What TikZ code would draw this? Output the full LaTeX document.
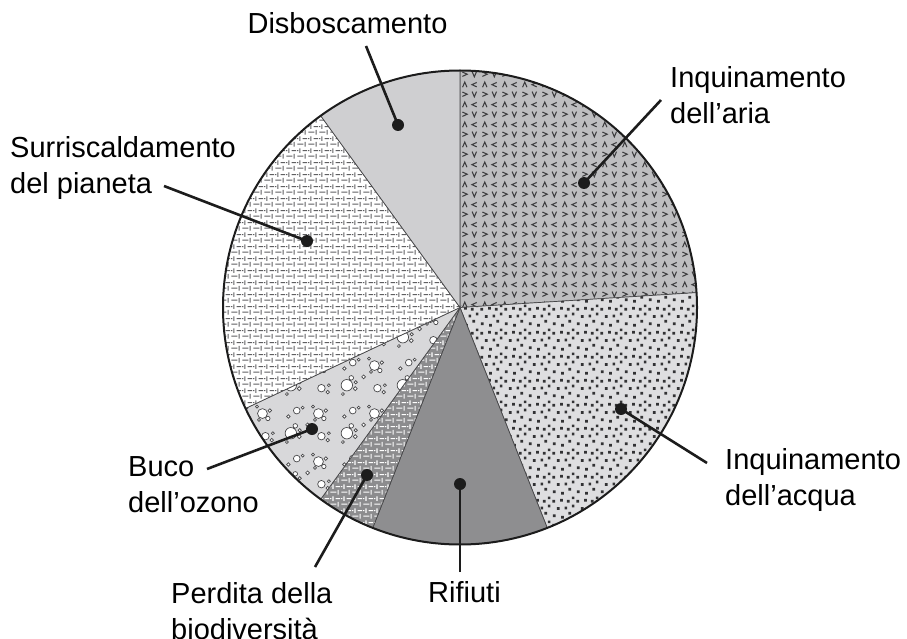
\documentclass[tikz,border=0pt]{standalone}
\usepackage{fontspec}
\setmainfont{Liberation Sans}
\usetikzlibrary{patterns}

\definecolor{linea}{RGB}{28,28,28}
\definecolor{bordo}{RGB}{70,70,72}
\definecolor{ariafondo}{RGB}{190,190,192}
\definecolor{ariasegni}{RGB}{60,60,62}
\definecolor{acquafondo}{RGB}{222,222,224}
\definecolor{acquasegni}{RGB}{50,50,52}
\definecolor{rifiutifondo}{RGB}{142,142,144}
\definecolor{perditafondo}{RGB}{140,140,142}
\definecolor{bucofondo}{RGB}{216,216,218}
\definecolor{bolla}{RGB}{70,70,72}
\definecolor{surrisegni}{RGB}{95,95,97}
\definecolor{disbofondo}{RGB}{207,207,209}

% trama a intreccio
\pgfdeclarepatternformonly{intreccio}{\pgfqpoint{0pt}{0pt}}{\pgfqpoint{11pt}{12pt}}{\pgfqpoint{11pt}{12pt}}{%
	\pgfsetlinewidth{1.1pt}
	\pgfpathmoveto{\pgfqpoint{0.5pt}{3pt}}\pgfpathlineto{\pgfqpoint{7pt}{3pt}}
	\pgfpathmoveto{\pgfqpoint{8.75pt}{0.5pt}}\pgfpathlineto{\pgfqpoint{8.75pt}{5.5pt}}
	\pgfpathmoveto{\pgfqpoint{6pt}{9pt}}\pgfpathlineto{\pgfqpoint{11pt}{9pt}}
	\pgfpathmoveto{\pgfqpoint{0pt}{9pt}}\pgfpathlineto{\pgfqpoint{1.5pt}{9pt}}
	\pgfpathmoveto{\pgfqpoint{3.25pt}{6.5pt}}\pgfpathlineto{\pgfqpoint{3.25pt}{11.5pt}}
	\pgfusepath{stroke}}

% trama a freccette
\pgfdeclarepatternformonly{freccette}{\pgfqpoint{0pt}{0pt}}{\pgfqpoint{20pt}{20pt}}{\pgfqpoint{20pt}{20pt}}{%
	\pgfsetlinewidth{1.1pt}
	\pgfpathmoveto{\pgfqpoint{2.7pt}{12.3pt}}\pgfpathlineto{\pgfqpoint{5pt}{17.7pt}}\pgfpathlineto{\pgfqpoint{7.3pt}{12.3pt}}
	\pgfpathmoveto{\pgfqpoint{17.5pt}{12.7pt}}\pgfpathlineto{\pgfqpoint{12.5pt}{15pt}}\pgfpathlineto{\pgfqpoint{17.5pt}{17.3pt}}
	\pgfpathmoveto{\pgfqpoint{2.5pt}{2.7pt}}\pgfpathlineto{\pgfqpoint{7.5pt}{5pt}}\pgfpathlineto{\pgfqpoint{2.5pt}{7.3pt}}
	\pgfpathmoveto{\pgfqpoint{12.7pt}{7.7pt}}\pgfpathlineto{\pgfqpoint{15pt}{2.3pt}}\pgfpathlineto{\pgfqpoint{17.3pt}{7.7pt}}
	\pgfusepath{stroke}}

% trama a puntini
\pgfdeclarepatternformonly{puntini}{\pgfqpoint{0pt}{0pt}}{\pgfqpoint{24pt}{24pt}}{\pgfqpoint{24pt}{24pt}}{%
	\pgfpathrectangle{\pgfqpoint{1pt}{2pt}}{\pgfqpoint{2.8pt}{2.8pt}}
	\pgfpathrectangle{\pgfqpoint{9.5pt}{0.5pt}}{\pgfqpoint{2.8pt}{2.8pt}}
	\pgfpathrectangle{\pgfqpoint{17pt}{4.5pt}}{\pgfqpoint{2.8pt}{2.8pt}}
	\pgfpathrectangle{\pgfqpoint{5pt}{9.5pt}}{\pgfqpoint{2.8pt}{2.8pt}}
	\pgfpathrectangle{\pgfqpoint{13pt}{10pt}}{\pgfqpoint{2.8pt}{2.8pt}}
	\pgfpathrectangle{\pgfqpoint{20.5pt}{12pt}}{\pgfqpoint{2.8pt}{2.8pt}}
	\pgfpathrectangle{\pgfqpoint{0.5pt}{17pt}}{\pgfqpoint{2.8pt}{2.8pt}}
	\pgfpathrectangle{\pgfqpoint{8.5pt}{18pt}}{\pgfqpoint{2.8pt}{2.8pt}}
	\pgfpathrectangle{\pgfqpoint{15.5pt}{17pt}}{\pgfqpoint{2.8pt}{2.8pt}}
	\pgfpathrectangle{\pgfqpoint{20.5pt}{20.5pt}}{\pgfqpoint{2.8pt}{2.8pt}}
	\pgfusepath{fill}}

% trama a bolle
\pgfdeclarepatterninherentlycolored{bolle}{\pgfqpoint{0pt}{0pt}}{\pgfqpoint{56pt}{48pt}}{\pgfqpoint{56pt}{48pt}}{%
	\pgfsetlinewidth{0.7pt}
	\pgfsetfillcolor{white}
	\pgfsetstrokecolor{bolla}
	\pgfpathcircle{\pgfqpoint{11pt}{14pt}}{5.8pt}
	\pgfpathcircle{\pgfqpoint{19.5pt}{10.5pt}}{2pt}
	\pgfpathcircle{\pgfqpoint{20pt}{17pt}}{1.7pt}
	\pgfpathcircle{\pgfqpoint{15.5pt}{21.5pt}}{2.3pt}
	\pgfpathcircle{\pgfqpoint{7pt}{5pt}}{1.5pt}
	\pgfpathcircle{\pgfqpoint{39pt}{34pt}}{5pt}
	\pgfpathcircle{\pgfqpoint{46.5pt}{37pt}}{1.8pt}
	\pgfpathcircle{\pgfqpoint{44.5pt}{29pt}}{2.2pt}
	\pgfpathcircle{\pgfqpoint{33.5pt}{41pt}}{1.5pt}
	\pgfpathcircle{\pgfqpoint{35.5pt}{27.5pt}}{1.5pt}
	\pgfpathcircle{\pgfqpoint{42pt}{11pt}}{3.8pt}
	\pgfpathcircle{\pgfqpoint{49.5pt}{14pt}}{1.5pt}
	\pgfpathcircle{\pgfqpoint{48.5pt}{7pt}}{1.8pt}
	\pgfpathcircle{\pgfqpoint{17pt}{37pt}}{3.4pt}
	\pgfpathcircle{\pgfqpoint{23pt}{40pt}}{1.5pt}
	\pgfpathcircle{\pgfqpoint{8.5pt}{31pt}}{1.8pt}
	\pgfpathcircle{\pgfqpoint{28pt}{22.5pt}}{2pt}
	\pgfusepath{fill,stroke}}

\tikzset{%
	fetta/.style = {draw=bordo, line width=0.7pt},
	aria/.style = {fetta, preaction={fill=ariafondo}, pattern=freccette, pattern color=ariasegni},
	acqua/.style = {fetta, preaction={fill=acquafondo}, pattern=puntini, pattern color=acquasegni},
	rifiuti/.style = {fetta, fill=rifiutifondo},
	perdita/.style = {fetta, preaction={fill=perditafondo}, pattern=intreccio, pattern color=white},
	buco/.style = {fetta, preaction={fill=bucofondo}, pattern=bolle},
	surri/.style = {fetta, preaction={fill=white}, pattern=intreccio, pattern color=surrisegni},
	disbo/.style = {fetta, fill=disbofondo},
	punto/.style = {circle, fill=linea, inner sep=0pt, minimum size=12pt},
	filo/.style = {draw=linea, line width=2.6pt},
	voce/.style = {font=\fontsize{29}{36}\selectfont, inner sep=0pt, align=left}%
}

\begin{document}
\begin{tikzpicture}[x=1pt,y=-1pt]
		\useasboundingbox (0,0) rectangle (907,639);
		\def\r{237}
		\coordinate (c) at (460,307.5);
		
		% fette
		\path[aria] (c) -- ++(-90:\r) arc[start angle=-90, end angle=-3.6, radius=\r] -- cycle;
		\path[acqua] (c) -- ++(-3.6:\r) arc[start angle=-3.6, end angle=68.4, radius=\r] -- cycle;
		\path[rifiuti] (c) -- ++(68.4:\r) arc[start angle=68.4, end angle=111.6, radius=\r] -- cycle;
		\path[perdita] (c) -- ++(111.6:\r) arc[start angle=111.6, end angle=126, radius=\r] -- cycle;
		\path[buco] (c) -- ++(126:\r) arc[start angle=126, end angle=154.8, radius=\r] -- cycle;
		\path[surri] (c) -- ++(154.8:\r) arc[start angle=154.8, end angle=234, radius=\r] -- cycle;
		\path[disbo] (c) -- ++(234:\r) arc[start angle=234, end angle=270, radius=\r] -- cycle;
		\draw[linea, line width=2pt] (c) circle[radius=\r];
		
		% punti
		\node(pdisbo)[punto] at (398,125){};
		\node(paria)[punto] at (584,183){};
		\node(psurri)[punto] at (307,241){};
		\node(pbuco)[punto] at (312,429){};
		\node(pperdita)[punto] at (367,475){};
		\node(prifiuti)[punto] at (460,484){};
		\node(pacqua)[punto] at (621,409){};
		
		% voci
		\node(disbo)[voce,anchor=base] at (347.5,34){Disboscamento};
		\node(aria)[voce,anchor=north west] at (670,66){Inquinamento\\dell’aria};
		\node(surri)[voce,anchor=north west] at (10,136){Surriscaldamento\\del pianeta};
		\node(buco)[voce,anchor=north west] at (128,456){Buco\\dell’ozono};
		\node(perdita)[voce,anchor=north west] at (171,582){Perdita della\\biodiversità};
		\node(rifiuti)[voce,anchor=base] at (464.5,602){Rifiuti};
		\node(acqua)[voce,anchor=north west] at (725,448){Inquinamento\\dell’acqua};
		
		% fili
		\coordinate (edisbo) at (366,46);
		\coordinate (earia) at (661,100);
		\coordinate (esurri) at (164,186);
		\coordinate (ebuco) at (207,469);
		\coordinate (eperdita) at (315,567);
		\coordinate (erifiuti) at (460,572);
		\coordinate (eacqua) at (707,463);
		\draw[filo] (edisbo) -- (pdisbo.center);
		\draw[filo] (earia) -- (paria.center);
		\draw[filo] (esurri) -- (psurri.center);
		\draw[filo] (ebuco) -- (pbuco.center);
		\draw[filo] (eperdita) -- (pperdita.center);
		\draw[filo] (erifiuti) -- (prifiuti.center);
		\draw[filo] (eacqua) -- (pacqua.center);
\end{tikzpicture}
\end{document}
